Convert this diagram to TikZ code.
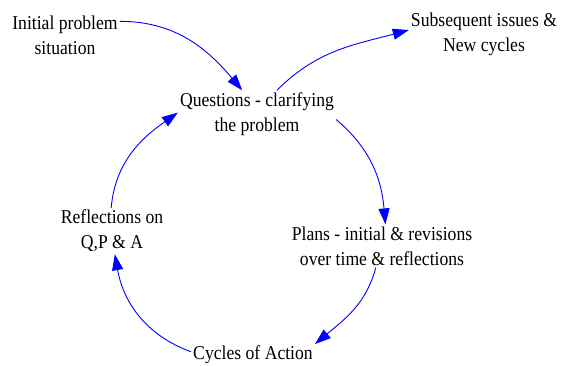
\documentclass[tikz,border=0pt]{standalone}
\usepackage{fontspec}
\setmainfont[FakeStretch=0.9]{Liberation Serif}
\usetikzlibrary{arrows.meta}

\begin{document}
\begin{tikzpicture}[x=1pt,y=1pt,
    box/.style={inner sep=2pt, align=center, font=\fontsize{19.6}{25}\selectfont},
    flow/.style={blue, line width=0.9pt, -{Triangle[length=16pt,width=11pt]}}]
        \useasboundingbox (0,0) rectangle (564,365);

        % Place the stages of the cycle
        \node[box] (init) at (65,330) {Initial problem\\situation};
        \node[box] (subs) at (484,331) {Subsequent issues \&\\New cycles};
        \node[box] (quest) at (257,251) {Questions - clarifying\\the problem};
        \node[box] (plans) at (382,119) {Plans - initial \& revisions\\over time \& reflections};
        \node[box] (cycles) at (253,10) {Cycles of Action};
        \node[box] (refl) at (112,134) {Reflections on\\Q,P \& A};

        % Entry into the cycle and the way out of it
        \draw[flow] (init.14) to[out=0,in=130] (quest.122);
        \draw[flow] (quest.50) to[out=45,in=195] (subs.177);

        % The loop itself
        \draw[flow] (quest.-4) to[out=-40,in=95] (plans.81);
        \draw[flow] (plans.-106) to[out=-105,in=40] (cycles.10);
        \draw[flow] (cycles.177) to[out=160,in=-80] (refl.-83);
        \draw[flow] (refl.92) to[out=85,in=215] (quest.179);
    \end{tikzpicture}
\end{document}
